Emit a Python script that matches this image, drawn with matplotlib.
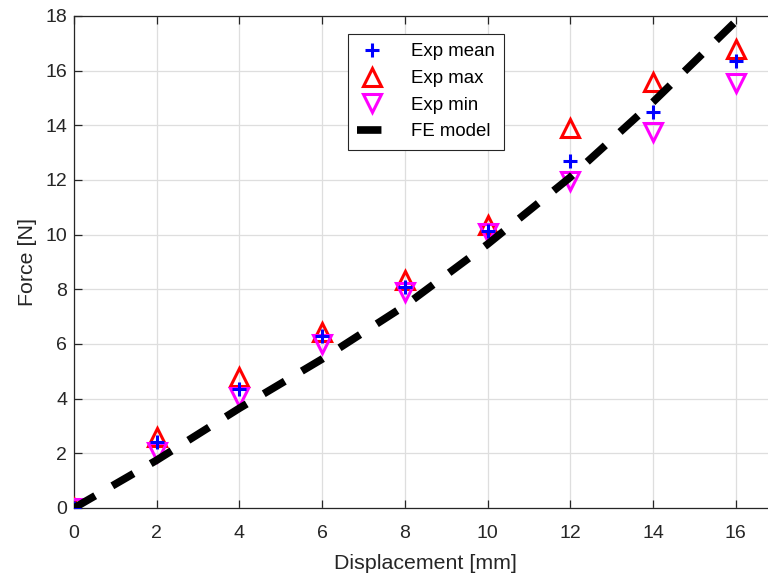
import matplotlib.pyplot as plt

plt.rcParams['font.family'] = ['Liberation Sans', 'DejaVu Sans']

disp = [0, 2, 4, 6, 8, 10, 12, 14, 16]
exp_mean = [0.0, 2.4, 4.35, 6.3, 8.1, 10.15, 12.7, 14.5, 16.35]
exp_max = [0.0, 2.6, 4.8, 6.45, 8.35, 10.35, 13.9, 15.6, 16.8]
exp_min = [0.0, 2.05, 4.05, 6.0, 7.9, 10.05, 11.95, 13.75, 15.55]

# FE model curve
fe_disp = [0, 2, 4, 6, 8, 10, 12, 14, 16]
fe_force = [0.0, 1.75, 3.65, 5.45, 7.4, 9.65, 12.1, 14.85, 17.8]

xticks = [0, 2, 4, 6, 8, 10, 12, 14, 16]
yticks = [0, 2, 4, 6, 8, 10, 12, 14, 16, 18]

ax_col = '#262626'

fig = plt.figure(figsize=(7.68, 5.75), dpi=100)
# right edge runs slightly past the figure, like the reference crop
ax = fig.add_axes([74 / 768, 1 - 508 / 575, 703 / 768, (508 - 16) / 575])

ax.plot(disp, exp_mean, '+', color='blue', ms=10, mew=2.2, label='Exp mean', zorder=4)
ax.plot(disp, exp_max, '^', color='red', mfc='none', ms=12.5, mew=2.2, label='Exp max', zorder=3)
ax.plot(disp, exp_min, 'v', color='magenta', mfc='none', ms=12.5, mew=2.2, label='Exp min', zorder=3)
ax.plot(fe_disp, fe_force, color='black', lw=5.5, linestyle=(0, (3.2, 2.6)),
        label='FE model', zorder=5)

ax.set_xlim(0, 17)
ax.set_ylim(0, 18)
ax.set_xticks(xticks)
ax.set_yticks(yticks)
ax.grid(True, color='#dedede', lw=0.9)
ax.set_axisbelow(True)
ax.tick_params(direction='in', top=True, right=True, colors=ax_col,
               labelsize=14, length=6, width=0.9)
ax.tick_params(axis='x', pad=12)
ax.tick_params(axis='y', pad=5)
for s in ax.spines.values():
    s.set_color(ax_col)
    s.set_linewidth(0.9)

ax.set_xlabel('Displacement [mm]', fontsize=15.4, color=ax_col, labelpad=9)
ax.set_ylabel('Force [N]', fontsize=15.4, color=ax_col, labelpad=6)

leg = ax.legend(loc='upper right', bbox_to_anchor=((504 - 74) / 703, (508 - 34) / 492),
                fontsize=13.4, frameon=True, fancybox=False, handlelength=1.6,
                borderpad=0.5, labelspacing=0.52, handletextpad=1.3,
                borderaxespad=0)
leg.get_frame().set_edgecolor(ax_col)
leg.get_frame().set_linewidth(0.8)
leg.get_frame().set_alpha(1)

fig.savefig('out.png', dpi=100)
